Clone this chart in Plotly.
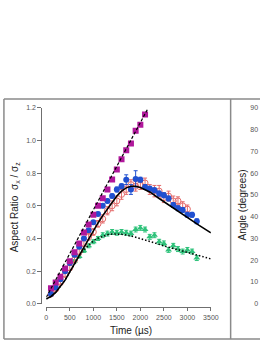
import plotly.graph_objects as go

# ---------------- data ----------------
mag_t = [100, 200, 300, 400, 500, 600, 700, 800, 900, 1000, 1100, 1200, 1300, 1400,
         1500, 1600, 1700, 1800, 1900, 2000, 2100]
mag_r = [0.096, 0.13, 0.166, 0.216, 0.26, 0.316, 0.37, 0.436, 0.486, 0.546, 0.60,
         0.646, 0.70, 0.762, 0.822, 0.886, 0.94, 0.982, 1.06, 1.096, 1.16]
mag_fit_t = [0, 2150]
mag_fit_r = [0.04, 1.19]

blue_t = [100, 200, 300, 400, 500, 600, 700, 800, 900, 1000, 1100, 1200, 1300, 1400,
          1500, 1600, 1700, 1800, 1900, 2000, 2100, 2200, 2300, 2400, 2500, 2600,
          2700, 2800, 2900, 3000, 3100, 3200]
blue_r = [0.06, 0.10, 0.15, 0.20, 0.25, 0.30, 0.35, 0.40, 0.45, 0.50, 0.55, 0.60,
          0.63, 0.66, 0.70, 0.72, 0.76, 0.70, 0.765, 0.76, 0.715, 0.705, 0.695,
          0.675, 0.665, 0.645, 0.605, 0.585, 0.575, 0.545, 0.545, 0.505]
blue_err = [0.01, 0.01, 0.01, 0.01, 0.01, 0.01, 0.01, 0.01, 0.01, 0.01, 0.01, 0.012,
            0.012, 0.012, 0.015, 0.015, 0.03, 0.03, 0.05, 0.015, 0.015, 0.015, 0.015,
            0.015, 0.015, 0.015, 0.015, 0.015, 0.015, 0.015, 0.015, 0.015]

red_t = [100, 200, 300, 400, 500, 600, 700, 800, 900, 1000, 1100, 1200, 1300, 1400,
         1500, 1600, 1700, 1800, 1900, 2000, 2100, 2200, 2300, 2400, 2500, 2600,
         2700, 2800, 2900, 3000]
red_r = [0.06, 0.09, 0.13, 0.18, 0.22, 0.27, 0.32, 0.37, 0.41, 0.44, 0.49, 0.52,
         0.57, 0.60, 0.63, 0.67, 0.70, 0.73, 0.72, 0.73, 0.74, 0.70, 0.69, 0.69,
         0.65, 0.66, 0.63, 0.63, 0.60, 0.58]
red_err = [0.01, 0.01, 0.01, 0.015, 0.015, 0.015, 0.02, 0.02, 0.02, 0.02, 0.02, 0.025,
           0.025, 0.03, 0.03, 0.03, 0.03, 0.03, 0.03, 0.03, 0.03, 0.03, 0.035, 0.035,
           0.03, 0.03, 0.03, 0.025, 0.025, 0.025]

green_t = [600, 700, 800, 900, 1000, 1100, 1200, 1300, 1400, 1500, 1600, 1700, 1800,
           1900, 2000, 2100, 2200, 2300, 2400, 2500, 2600, 2700, 2800, 2900, 3000,
           3100, 3200]
green_r = [0.26, 0.29, 0.325, 0.355, 0.38, 0.40, 0.42, 0.43, 0.44, 0.435, 0.44, 0.435,
           0.43, 0.455, 0.465, 0.455, 0.41, 0.42, 0.38, 0.37, 0.33, 0.355, 0.335,
           0.32, 0.33, 0.32, 0.28]
green_err = [0.01, 0.01, 0.01, 0.012, 0.012, 0.012, 0.015, 0.015, 0.015, 0.015, 0.015,
             0.015, 0.015, 0.015, 0.015, 0.015, 0.015, 0.015, 0.015, 0.015, 0.015,
             0.015, 0.015, 0.015, 0.015, 0.015, 0.015]

fit_t = [0, 100, 200, 300, 400, 500, 600, 700, 800, 900, 1000, 1100, 1200, 1300,
         1400, 1500, 1600, 1700, 1800, 1900, 2000, 2200, 2400, 2600, 2800, 3000,
         3250, 3500]
fit_r = [0.03, 0.045, 0.07, 0.105, 0.145, 0.195, 0.245, 0.30, 0.35, 0.40, 0.45,
         0.495, 0.54, 0.58, 0.625, 0.66, 0.69, 0.71, 0.72, 0.72, 0.712, 0.685,
         0.645, 0.605, 0.565, 0.525, 0.48, 0.435]

dot_t = [0, 100, 200, 300, 400, 500, 600, 700, 800, 900, 1000, 1100, 1200, 1300,
         1400, 1500, 1600, 1800, 2000, 2200, 2500, 2800, 3100, 3500]
dot_r = [0.03, 0.045, 0.07, 0.105, 0.145, 0.195, 0.245, 0.29, 0.33, 0.36, 0.385,
         0.402, 0.415, 0.423, 0.427, 0.428, 0.426, 0.416, 0.40, 0.382, 0.355, 0.33,
         0.305, 0.275]

x_ticks = [0, 500, 1000, 1500, 2000, 2500, 3000, 3500]
y_ticks = [0.0, 0.2, 0.4, 0.6, 0.8, 1.0, 1.2]
angle_ticks = [0, 10, 20, 30, 40, 50, 60, 70, 80, 90]

# ---------------- figure ----------------
W, H = 268, 346
MAG = "#b0179b"
BLUE = "#2050d0"
RED = "#e46a6a"
GREEN = "#2ec27a"
GRAY = "#6f6f6f"

fig = go.Figure()

fig.add_trace(go.Scatter(x=green_t, y=green_r, mode="markers",
                         marker=dict(symbol="triangle-up", size=6, color=GREEN),
                         error_y=dict(type="data", array=green_err, color=GREEN,
                                      thickness=1, width=2)))
fig.add_trace(go.Scatter(x=dot_t, y=dot_r, mode="lines",
                         line=dict(color="black", width=1.5, dash="1.5px,2px")))
fig.add_trace(go.Scatter(x=red_t, y=red_r, mode="markers",
                         marker=dict(symbol="circle-open", size=6, color=RED,
                                     line=dict(width=1)),
                         error_y=dict(type="data", array=red_err, color=RED,
                                      thickness=1, width=2)))
fig.add_trace(go.Scatter(x=blue_t, y=blue_r, mode="markers",
                         marker=dict(symbol="circle", size=6, color=BLUE),
                         error_y=dict(type="data", array=blue_err, color=BLUE,
                                      thickness=1, width=2)))
fig.add_trace(go.Scatter(x=fit_t, y=fit_r, mode="lines",
                         line=dict(color="black", width=1.6)))
fig.add_trace(go.Scatter(x=mag_t, y=mag_r, mode="markers",
                         marker=dict(symbol="square", size=6, color=MAG)))
fig.add_trace(go.Scatter(x=mag_fit_t, y=mag_fit_r, mode="lines",
                         line=dict(color="black", width=1.2, dash="3px,2px")))
# carrier trace for the (cut-off) angle panel: it only makes its axis render
fig.add_trace(go.Scatter(x=[0], y=[0], xaxis="x2", yaxis="y2", mode="lines",
                         line=dict(width=0), hoverinfo="skip"))

xd0, xd1 = 46 / W, 217 / W
yd0, yd1 = 1 - 306 / H, 1 - 106 / H

fig.update_layout(
    width=W, height=H, margin=dict(l=0, r=0, t=0, b=0),
    paper_bgcolor="white", plot_bgcolor="rgba(0,0,0,0)", showlegend=False,
    font=dict(family="Liberation Sans, Arial, sans-serif", color="#333"),
    xaxis=dict(domain=[xd0, xd1], range=[0, 3500], anchor="free",
               position=1 - 309.5 / H, tickvals=x_ticks,
               showline=True, linecolor=GRAY, linewidth=1.3,
               ticks="outside", ticklen=3, tickcolor=GRAY, tickwidth=1.2,
               tickfont=dict(size=7, color="#555"), showgrid=False, zeroline=False),
    yaxis=dict(domain=[yd0, yd1], range=[0, 1.2], anchor="free",
               position=41 / W, tickvals=y_ticks, tickformat=".1f",
               showline=True, linecolor=GRAY, linewidth=1.3,
               ticks="outside", ticklen=4, tickcolor=GRAY, tickwidth=1.2,
               tickfont=dict(size=7, color="#555"), showgrid=False, zeroline=False),
    xaxis2=dict(domain=[267 / W, 1.0], range=[0, 1], anchor="y2", visible=False),
    yaxis2=dict(domain=[yd0, yd1], range=[0, 90], anchor="x2", side="left",
                tickvals=angle_ticks, showline=False, ticks="",
                tickfont=dict(size=7, color="#555"), showgrid=False,
                zeroline=False),
)

fig.add_annotation(text="Aspect Ratio  σ<sub>x</sub> / σ<sub>z</sub>", textangle=-90,
                   xref="paper", yref="paper", x=13 / W, y=1 - 208 / H,
                   xanchor="center", yanchor="middle",
                   showarrow=False, font=dict(size=10, color="#222"))
fig.add_annotation(text="Angle (degrees)", textangle=-90,
                   xref="paper", yref="paper", x=250 / W, y=1 - 205 / H,
                   xanchor="center", yanchor="middle",
                   showarrow=False, font=dict(size=10, color="#222"))
fig.add_annotation(text="Time (µs)", xref="paper", yref="paper",
                   x=134 / W, y=1 - 333 / H, xanchor="center", yanchor="middle",
                   showarrow=False, font=dict(size=10, color="#222"))

# frame
fl = dict(color="#8a8a8a", width=1.5)
fx0, fx1, fxs = 2 / W, 1.0, 237.5 / W
fy0, fy1 = 1 - 342 / H, 1 - 97 / H
for x0, y0, x1, y1 in [(fx0, fy1, fx1, fy1), (fx0, fy0, fx1, fy0),
                       (fx0, fy0, fx0, fy1), (fxs, fy0, fxs, fy1)]:
    fig.add_shape(type="line", xref="paper", yref="paper", x0=x0, y0=y0,
                  x1=x1, y1=y1, line=fl)

fig.write_html(
    "out.html",
    config={"displayModeBar": False, "responsive": False},
    post_script=("document.documentElement.style.margin='0';"
                 "document.documentElement.style.overflow='hidden';"
                 "document.body.style.margin='0';"
                 "document.body.style.padding='0';"
                 "document.body.style.overflow='hidden';"),
)
